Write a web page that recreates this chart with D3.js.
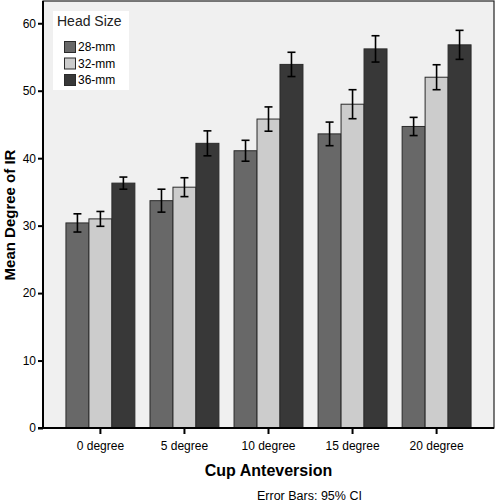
<!DOCTYPE html>
<html>
<head>
<meta charset="utf-8">
<script src="https://cdn.jsdelivr.net/npm/d3@7"></script>
<style>
  html, body { margin: 0; padding: 0; background: #fff; }
  svg { display: block; font-family: "Liberation Sans", Arial, sans-serif; }
</style>
</head>
<body>
<svg id="chart" width="496" height="503"></svg>
<script>
const categories = ["0 degree", "5 degree", "10 degree", "15 degree", "20 degree"];
const series = ["28-mm", "32-mm", "36-mm"];
const means28 = [30.4, 33.7, 41.1, 43.6, 44.7];
const means32 = [31.0, 35.7, 45.8, 48.0, 52.0];
const means36 = [36.3, 42.2, 53.9, 56.2, 56.8];
const ci28 = [1.35, 1.7, 1.55, 1.75, 1.35];
const ci32 = [1.1, 1.4, 1.8, 2.15, 1.85];
const ci36 = [0.9, 1.85, 1.8, 1.95, 2.15];
const yTicks = [0, 10, 20, 30, 40, 50, 60];
const colors = ["#686868", "#cccccc", "#383838"];

(function () {
const meansBySeries = [means28, means32, means36];
const ciBySeries = [ci28, ci32, ci36];
const data = [];
categories.forEach((c, i) => {
  series.forEach((s, j) => {
    data.push({ cat: c, ser: s, mean: meansBySeries[j][i], ci: ciBySeries[j][i], color: colors[j] });
  });
});

const svg = d3.select("#chart");
const pL = 43, pR = 494, pT = 1, pB = 428;

const x = d3.scaleBand().domain(categories).range([pL, pR]).paddingInner(0.18).paddingOuter(0.273);
const xs = d3.scaleBand().domain(series).range([0, x.bandwidth()]);
const y = d3.scaleLinear().domain([0, 63.3]).range([pB, pT]);

// plot background + frame
svg.append("rect").attr("x", pL).attr("y", pT).attr("width", pR - pL).attr("height", pB - pT)
  .attr("fill", "#f0f0f0").attr("stroke", "#222").attr("stroke-width", 1.2);

// bars
svg.append("g").selectAll("rect").data(data).join("rect")
  .attr("x", d => x(d.cat) + xs(d.ser))
  .attr("y", d => y(d.mean))
  .attr("width", xs.bandwidth())
  .attr("height", d => y(0) - y(d.mean))
  .attr("fill", d => d.color)
  .attr("stroke", "#2a2a2a").attr("stroke-width", 1);

// error bars
const eb = svg.append("g").attr("stroke", "#000").attr("stroke-width", 1.6);
data.forEach(d => {
  const cx = x(d.cat) + xs(d.ser) + xs.bandwidth() / 2;
  eb.append("line").attr("x1", cx).attr("x2", cx).attr("y1", y(d.mean + d.ci)).attr("y2", y(d.mean - d.ci));
  eb.append("line").attr("x1", cx - 4).attr("x2", cx + 4).attr("y1", y(d.mean + d.ci)).attr("y2", y(d.mean + d.ci));
  eb.append("line").attr("x1", cx - 4).attr("x2", cx + 4).attr("y1", y(d.mean - d.ci)).attr("y2", y(d.mean - d.ci));
});

// y axis
const yAxis = svg.append("g").attr("transform", `translate(${pL},0)`)
  .call(d3.axisLeft(y).tickValues(yTicks).tickSize(5).tickPadding(2).tickFormat(d3.format("d")));
yAxis.select(".domain").attr("stroke", "#000").attr("stroke-width", 2).attr("d", `M0,${pT}V${pB}`);
yAxis.selectAll(".tick line").attr("stroke", "#000").attr("stroke-width", 2);
yAxis.selectAll(".tick text").attr("font-size", 12).attr("fill", "#000").attr("font-family", "Liberation Sans, Arial, sans-serif");

// x axis
const xAxis = svg.append("g").attr("transform", `translate(0,${pB})`)
  .call(d3.axisBottom(x).tickSize(6).tickPadding(7));
xAxis.select(".domain").attr("stroke", "#000").attr("stroke-width", 2).attr("d", `M${pL - 5},0H${pR}`);
xAxis.selectAll(".tick line").attr("stroke", "#000").attr("stroke-width", 2);
xAxis.selectAll(".tick text").attr("font-size", 12).attr("fill", "#000").attr("font-family", "Liberation Sans, Arial, sans-serif");

// axis titles
svg.append("text").attr("transform", `translate(15,215) rotate(-90)`).attr("text-anchor", "middle")
  .attr("font-size", 15).attr("font-weight", "bold").attr("fill", "#000").text("Mean Degree of IR");
svg.append("text").attr("x", (pL + pR) / 2).attr("y", 476).attr("text-anchor", "middle")
  .attr("font-size", 16).attr("font-weight", "bold").attr("fill", "#000").text("Cup Anteversion");
svg.append("text").attr("x", 257).attr("y", 500)
  .attr("font-size", 12.5).attr("fill", "#000").text("Error Bars: 95% CI");

// legend
const lg = svg.append("g");
lg.append("rect").attr("x", 53).attr("y", 11).attr("width", 76).attr("height", 79).attr("fill", "#fff");
lg.append("text").attr("x", 57).attr("y", 26).attr("font-size", 14).attr("fill", "#222").text("Head Size");
series.forEach((s, j) => {
  const cy = 47 + j * 16.5;
  lg.append("rect").attr("x", 64.5).attr("y", cy - 5.5).attr("width", 11).attr("height", 11)
    .attr("fill", colors[j]).attr("stroke", "#2a2a2a").attr("stroke-width", 1);
  lg.append("text").attr("x", 78).attr("y", cy + 4).attr("font-size", 12).attr("fill", "#000").text(s);
});
})();
</script>
</body>
</html>
